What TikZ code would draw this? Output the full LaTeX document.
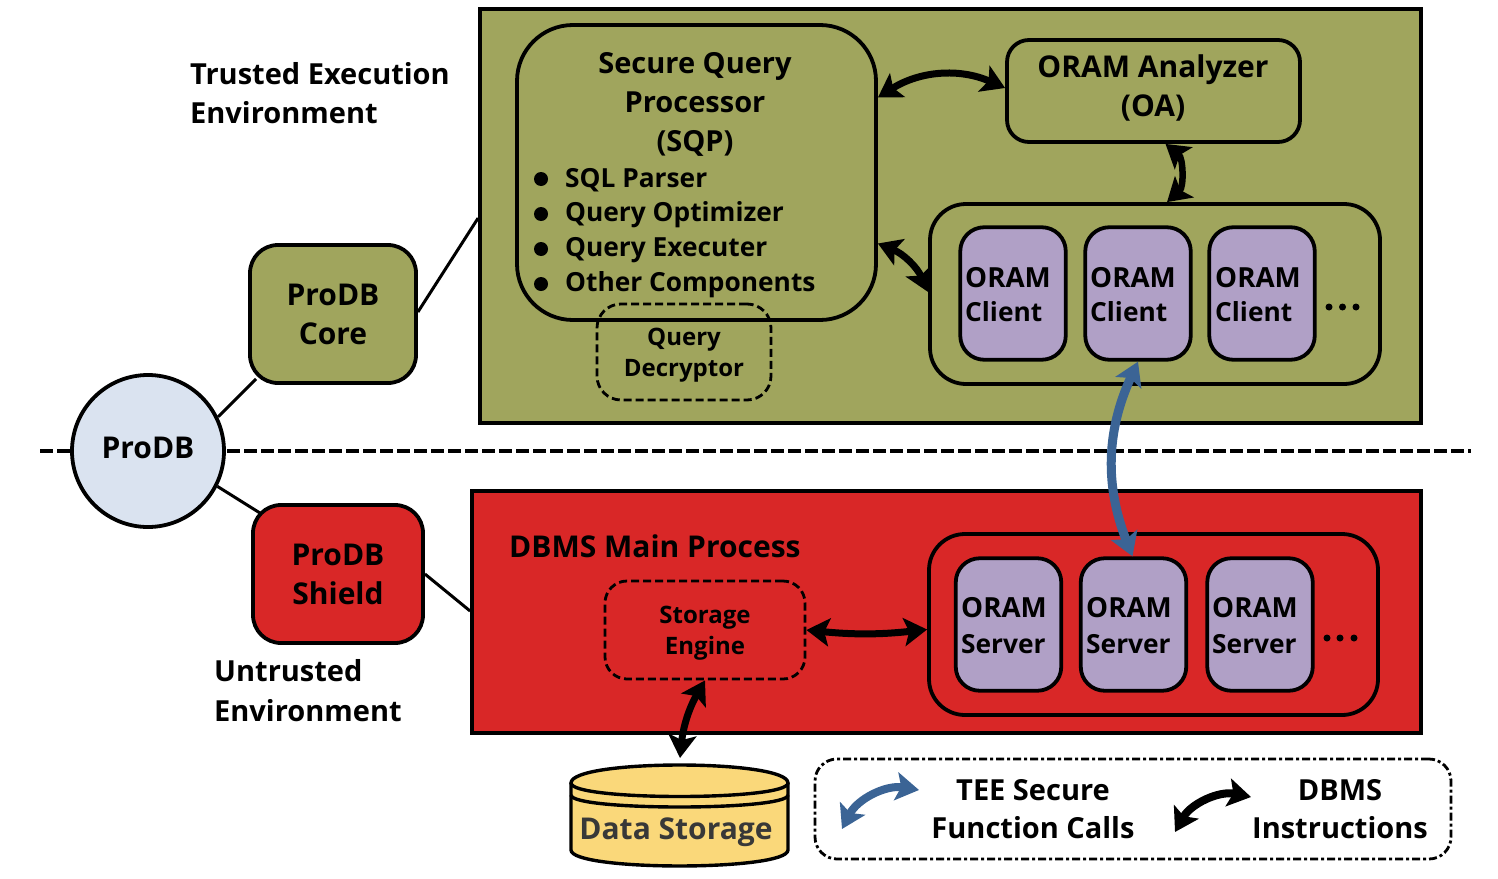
\documentclass[tikz,border=0pt]{standalone}
\usepackage{fontspec}
\setmainfont{Open Sans}
\usetikzlibrary{arrows.meta,calc}
\definecolor{olive}{HTML}{A0A55D}
\definecolor{oram}{HTML}{B0A0C6}
\definecolor{redbox}{HTML}{D92727}
\definecolor{bluec}{HTML}{DAE3F0}
\definecolor{bluearrow}{HTML}{3B6495}
\definecolor{stor}{HTML}{FAD87A}
\newcommand{\fs}[1]{\fontsize{#1}{#1}\selectfont\bfseries}
\newcommand{\ol}[2]{ORAM\\[8pt]{\fontsize{#1}{27.7}\selectfont #2}}
\tikzset{
 x=1pt,y=-1pt,
 rbox/.style={draw=black,line width=3.8pt,inner sep=0pt,align=center,font=\fs{30},text depth=0pt},
 orambox/.style={rbox,fill=oram,minimum width=105.5pt,minimum height=132.5pt,rounded corners=24pt},
 group/.style={rbox,rounded corners=36pt},
 lbl/.style={align=left,font=\fs{29},inner sep=0pt},
 item/.style={align=left,font=\fs{26.3},inner sep=0pt,anchor=west},
 ctr/.style={align=center,font=\fs{29},inner sep=0pt},
 small/.style={align=center,font=\fs{24},inner sep=0pt},
 oraml/.style={align=left,font=\fs{27.7},inner sep=0pt,anchor=west},
 dashbox/.style={draw=black,line width=2.8pt,dash pattern=on 8pt off 4pt,inner sep=0pt},
 dbl/.style={line width=7pt,{Stealth[length=23pt,width=28pt,inset=5pt]}-{Stealth[length=23pt,width=28pt,inset=5pt]}},
 blk/.style={dbl,black},
 blu/.style={dbl,bluearrow},
 dot/.style={circle,fill=black,inner sep=0pt,minimum size=14pt},
 tiny/.style={circle,fill=black,inner sep=0pt,minimum size=7pt},
 wire/.style={draw=black,line width=3pt},
}
\begin{document}
\begin{tikzpicture}
\useasboundingbox (0,0) rectangle (1498,878);
% outer panels
\node[rbox,fill=olive,minimum width=941pt,minimum height=414pt] (tee) at (950.5,216) {};
\node[rbox,fill=redbox,minimum width=949pt,minimum height=242pt] (dbms) at (946.5,612) {};
\coordinate (dl) at (40,451); \coordinate (dr) at (1471,451);
\draw[line width=4pt,dash pattern=on 12.5pt off 4.5pt] (dl) -- (dr);
% left column
\node[rbox,fill=olive,minimum width=166pt,minimum height=138pt,rounded corners=28pt] (core) at (333,314) {ProDB\\[9pt]Core};
\node[rbox,fill=redbox,minimum width=170pt,minimum height=138pt,rounded corners=28pt] (shield) at (338,574) {ProDB\\[9pt]Shield};
\node[rbox,circle,fill=bluec,minimum size=152pt] (prodb) at (148,451) {};
\node[font=\fs{30},inner sep=0pt] (prodbt) at (148,448) {ProDB};
\draw[wire] (prodb.26) -- ([xshift=8pt,yshift=6pt]core.south west);
\draw[wire] (prodb.-27) -- ([xshift=9pt,yshift=-10pt]shield.north west);
\draw[wire] ([yshift=2pt]core.east) -- ([yshift=25pt]tee.west |- core.north);
\draw[wire] (shield.east) -- (dbms.west |- 0,611);
\node[lbl,anchor=west] (t1) at (190,93.5) {Trusted Execution\\[10pt]Environment};
\node[lbl,anchor=west] (t2) at (214,691) {Untrusted\\[11pt]Environment};
% SQP
\node[rbox,fill=olive,minimum width=359pt,minimum height=295pt,rounded corners=56pt] (sqp) at (696.5,172.5) {};
\node[ctr] (sqpt) at (695,104) {Secure Query\\[10pt]Processor\\[10pt](SQP)};
\node[dot] (b1) at (541,179) {};
\node[dot] (b2) at (541,214) {};
\node[dot] (b3) at (541,249) {};
\node[dot] (b4) at (541,284) {};
\node[item] (i1) at (565,180) {SQL Parser};
\node[item] (i2) at (565,215) {Query Optimizer};
\node[item] (i3) at (565,250) {Query Executer};
\node[item] (i4) at (565,285) {Other Components};
\node[dashbox,rounded corners=24pt,minimum width=174pt,minimum height=96pt] (qd) at (684,352) {};
\node[small] (qdt) at (684,355) {Query\\[7pt]Decryptor};
% OA
\node[rbox,fill=olive,minimum width=293pt,minimum height=102pt,rounded corners=22pt] (oa) at (1153.5,91) {};
\node[font=\fs{30},align=center,inner sep=0pt] (oat) at (1153,87.5) {ORAM Analyzer\\[9pt](OA)};
% clients
\node[group,fill=olive,minimum width=450pt,minimum height=180pt] (cg) at (1155,294) {};
\node[orambox] (c1) at (1013,293.5) {};
\node[orambox] (c2) at (1138,293.5) {};
\node[orambox] (c3) at (1262,293.5) {};
\node[oraml] (c1t) at (965,294.5) {ORAM\\[7pt]{\fontsize{26.3}{27.7}\selectfont Client}};
\node[oraml] (c2t) at (1090,294.5) {ORAM\\[7pt]{\fontsize{26.3}{27.7}\selectfont Client}};
\node[oraml] (c3t) at (1215,294.5) {ORAM\\[7pt]{\fontsize{26.3}{27.7}\selectfont Client}};
\node[tiny] (cd1) at (1329,307) {};
\node[tiny] (cd2) at (1342.5,307) {};
\node[tiny] (cd3) at (1356,307) {};
% servers
\node[group,fill=redbox,minimum width=449pt,minimum height=181pt] (sg) at (1153.5,624.5) {};
\node[orambox] (s1) at (1008.5,624.5) {};
\node[orambox] (s2) at (1133.5,624.5) {};
\node[orambox] (s3) at (1260,624.5) {};
\node[oraml] (s1t) at (961,625.5) {\ol{26.3}{Server}};
\node[oraml] (s2t) at (1086,625.5) {\ol{26.3}{Server}};
\node[oraml] (s3t) at (1212,625.5) {\ol{26.3}{Server}};
\node[tiny] (sd1) at (1327,638) {};
\node[tiny] (sd2) at (1340,638) {};
\node[tiny] (sd3) at (1354,638) {};
\node[font=\fs{30},inner sep=0pt,anchor=west] (mp) at (509,546) {DBMS Main Process};
\node[dashbox,rounded corners=22pt,minimum width=200pt,minimum height=98pt] (se) at (705,630) {};
\node[small] (set) at (705,633) {Storage\\[7pt]Engine};
% storage
\coordinate (ds) at (680,758);
\path[fill=stor] (571,783) .. controls (571,759) and (788,759) .. (788,783) -- (788,850) .. controls (788,871.3) and (571,871.3) .. (571,850) -- cycle;
\draw[line width=3.4pt] (571,783) -- (571,850) .. controls (571,871.3) and (788,871.3) .. (788,850) -- (788,783);
\draw[line width=3.4pt] (571,783) .. controls (571,759) and (788,759) .. (788,783) .. controls (788,801) and (571,801) .. (571,783) -- cycle;
\draw[line width=3.4pt] (571,795) .. controls (571,811) and (788,811) .. (788,795);
\node[font=\fs{30},text=black!78,inner sep=0pt] (dst) at (676,832) {Data Storage};
% legend
\node[draw=black,line width=2.8pt,dash pattern=on 8pt off 3pt on 3pt off 3pt,rounded corners=22pt,minimum width=636pt,minimum height=100pt] (leg) at (1133,809) {};
\node[ctr] (l1) at (1033,809) {TEE Secure\\[9pt]Function Calls};
\node[ctr] (l2) at (1340,809) {DBMS\\[9pt]Instructions};
\coordinate (lb1) at (842,829); \coordinate (lb2) at (919,790);
\coordinate (lk1) at (1175,832); \coordinate (lk2) at (1251,797);
% connectors
\draw[blk] ([yshift=75pt]sqp.east) to[bend left=28] ([yshift=3pt]oa.west);
\draw[blk] ([yshift=-71pt]sqp.east) to[bend left=22] ([yshift=2pt]cg.west);
\draw[blk,line width=6.5pt] ([xshift=12pt]oa.south) to[bend left=50] ([xshift=12pt]cg.north);
\draw[blu,line width=9pt] (c2.south) to[bend right=23] ([xshift=-1pt]s2.north);
\draw[blk] (se.east) to[bend right=6] ([yshift=-5pt]sg.west);
\draw[blk] (se.south) to[bend right=12] (ds);
\draw[blu,line width=8pt] (lb1) to[bend left=36] (lb2);
\draw[blk,line width=8pt] (lk1) to[bend left=36] (lk2);
\end{tikzpicture}
\end{document}
